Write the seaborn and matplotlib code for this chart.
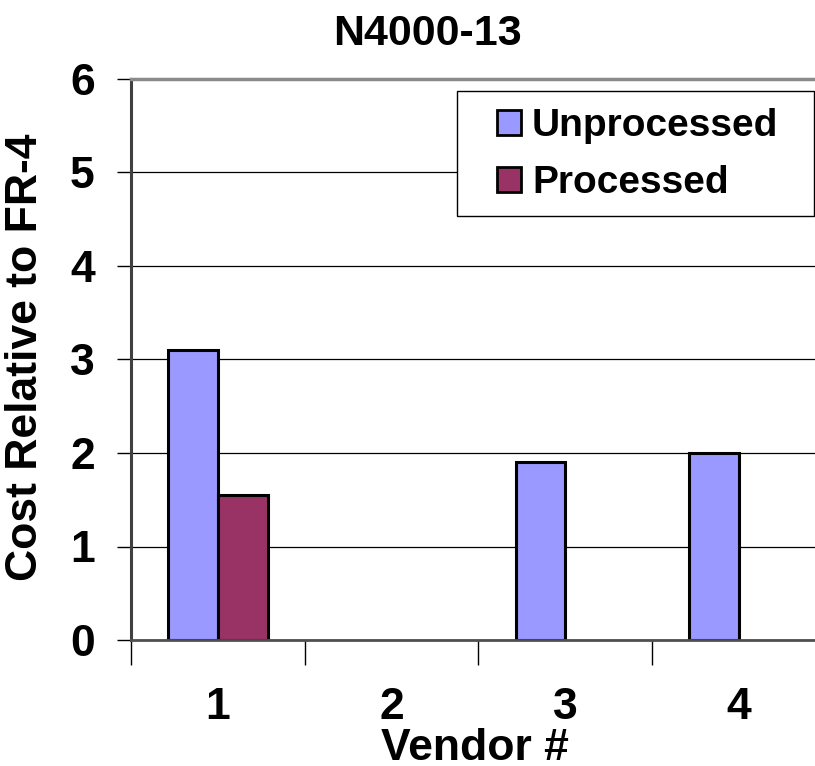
import matplotlib
matplotlib.use("Agg")
import matplotlib.pyplot as plt
import seaborn as sns
import pandas as pd
import numpy as np
from matplotlib.ticker import FixedLocator
from matplotlib.patches import Rectangle

# ---- data ----
vendors = ["1", "2", "3", "4"]
unprocessed = [3.1, np.nan, 1.9, 2.0]
processed = [1.55, np.nan, np.nan, np.nan]
series = ["Unprocessed", "Processed"]
colors = ["#9999FF", "#993366"]
yticks = [0, 1, 2, 3, 4, 5, 6]
title = "N4000-13"
xlabel = "Vendor #"
ylabel = "Cost Relative to FR-4"

df = pd.DataFrame({
    "Vendor": vendors * 2,
    "Cost": unprocessed + processed,
    "Series": [series[0]] * len(vendors) + [series[1]] * len(vendors),
})

plt.rcParams["font.family"] = ["Liberation Sans", "DejaVu Sans"]
plt.rcParams["font.weight"] = "bold"

W, H = 815, 766
fig = plt.figure(figsize=(W / 100, H / 100), dpi=100)
fig.patch.set_facecolor("white")
ax = fig.add_axes([131 / W, 1 - 640 / H, (826 - 131) / W, (640 - 79) / H])

sns.barplot(data=df, x="Vendor", y="Cost", hue="Series", order=vendors,
            hue_order=series, palette=colors, width=0.572, edgecolor="black",
            linewidth=2.2, saturation=1, errorbar=None, ax=ax)

ax.set_xlim(-0.5, 3.5)
ax.set_ylim(0, 6)
ax.set_yticks(yticks)
ax.set_xticks(range(len(vendors)))
ax.set_xticklabels(vendors)
ax.xaxis.set_minor_locator(FixedLocator([-0.5, 0.5, 1.5, 2.5, 3.5]))
ax.tick_params(axis="x", which="major", length=0, pad=34, labelsize=32)
ax.tick_params(axis="x", which="minor", length=18, width=1.0, color="black",
               direction="out", bottom=True)
ax.tick_params(axis="y", which="major", length=10, width=1.0, color="black",
               direction="out", pad=16, labelsize=32, left=True)
for lab in ax.get_xticklabels() + ax.get_yticklabels():
    lab.set_fontweight("bold")

ax.yaxis.grid(True, color="black", linewidth=0.9)
ax.xaxis.grid(False)
ax.set_axisbelow(True)
ax.set_xlabel("")
ax.set_ylabel("")

ax.spines["left"].set_color("#404040")
ax.spines["left"].set_linewidth(2.2)
ax.spines["top"].set_color("#8a8a8a")
ax.spines["top"].set_linewidth(2.5)
ax.spines["bottom"].set_color("#505050")
ax.spines["bottom"].set_linewidth(2.0)
ax.spines["right"].set_visible(False)

fig.text(427.5 / W, 1 - 45 / H, title, ha="center", va="baseline",
         fontsize=31, fontweight="bold")
fig.text(475 / W, 1 - 760 / H, xlabel, ha="center", va="baseline",
         fontsize=32, fontweight="bold")
fig.text(26 / W, 1 - 357.5 / H, ylabel, ha="center", va="center",
         rotation=90, fontsize=32, fontweight="bold")

# legend frame (Excel-style box)
ax.add_patch(Rectangle((457 / W, 1 - 216 / H), (814 - 457) / W, (216 - 91) / H,
                       transform=fig.transFigure, facecolor="white",
                       edgecolor="black", linewidth=1.0, zorder=4, clip_on=False))

leg = ax.legend(loc="upper left", bbox_to_anchor=(497 / W, 1 - 108 / H),
                bbox_transform=fig.transFigure, frameon=False,
                prop={"weight": "bold", "size": 28},
                handlelength=0.62, handleheight=0.62, handletextpad=0.28,
                borderpad=0, labelspacing=0.55, borderaxespad=0)
leg.set_zorder(10)
for h in leg.legend_handles:
    h.set_edgecolor("black")
    h.set_linewidth(2.0)

fig.savefig("out.png", dpi=100)
